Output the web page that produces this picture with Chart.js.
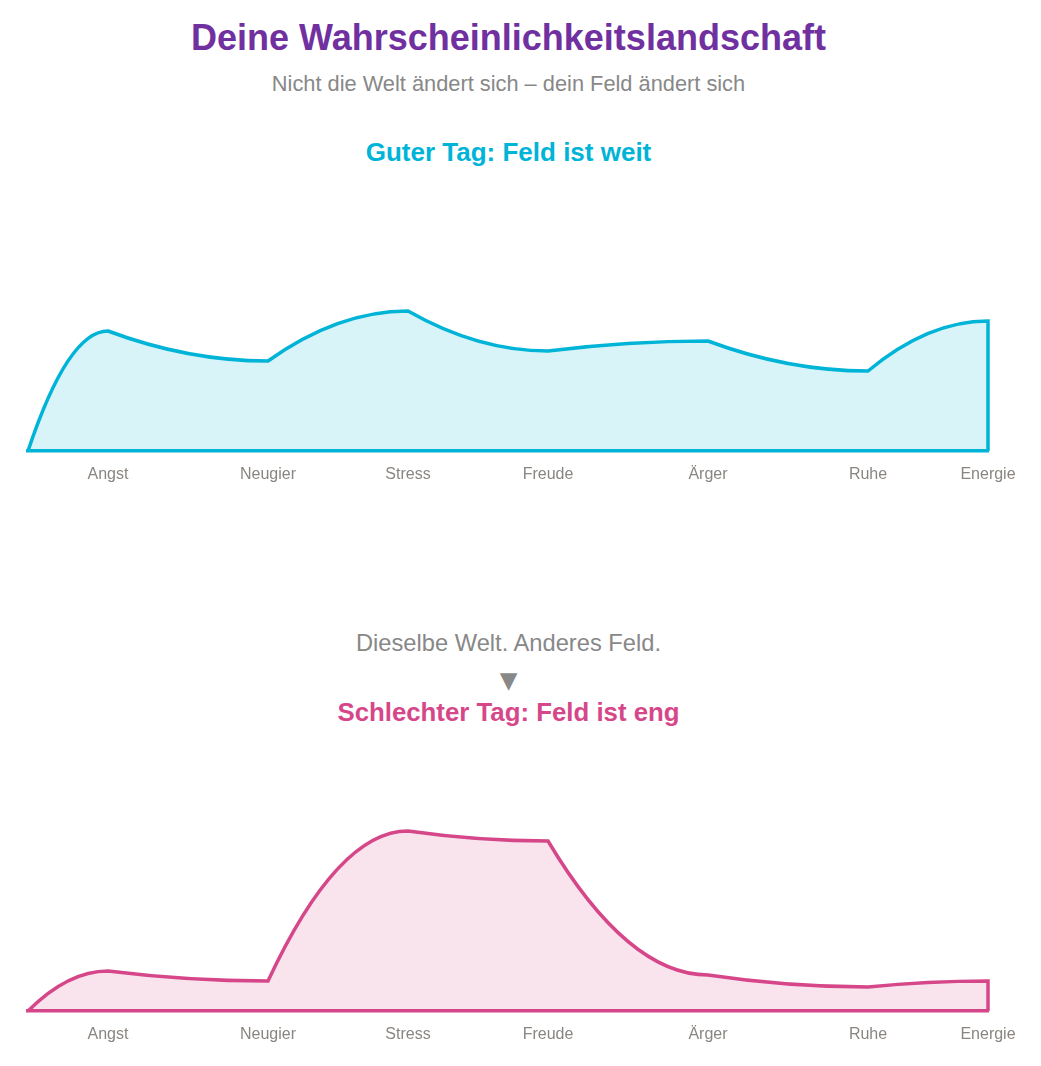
<!DOCTYPE html>
<html lang="de">
<head>
<meta charset="utf-8">
<title>Deine Wahrscheinlichkeitslandschaft</title>
<script src="https://cdn.jsdelivr.net/npm/chart.js@4.4.1/dist/chart.umd.min.js"></script>
<style>
  html, body { margin: 0; padding: 0; background: #ffffff; overflow: hidden; }
  body { width: 1041px; height: 1066px; position: relative; font-family: "Liberation Sans", Arial, sans-serif; }
  .txt { position: absolute; left: 0; width: 1017px; text-align: center; white-space: nowrap; }
  #title { top: 18px; line-height: 40px; font-size: 36px; font-weight: bold; color: #7030a0; }
  #subtitle { top: 68.5px; line-height: 30px; font-size: 21.8px; color: #888888; }
  #goodTitle { top: 136.5px; line-height: 30px; font-size: 26px; font-weight: bold; color: #00b4d8; }
  #between { top: 628px; line-height: 30px; font-size: 23.7px; color: #888888; }
  #arrow { top: 665px; line-height: 30px; font-size: 23px; color: #888888; font-family: "DejaVu Sans", sans-serif; }
  #badTitle { top: 696.7px; line-height: 30px; font-size: 25.8px; font-weight: bold; color: #d6478a; }
  canvas { position: absolute; left: 0; }
  #goodChart { top: 251px; }
  #badChart { top: 811px; }
</style>
</head>
<body>
<div class="txt" id="title">Deine Wahrscheinlichkeitslandschaft</div>
<div class="txt" id="subtitle">Nicht die Welt ändert sich – dein Feld ändert sich</div>
<div class="txt" id="goodTitle">Guter Tag: Feld ist weit</div>
<canvas id="goodChart" width="1041" height="247"></canvas>
<div class="txt" id="between">Dieselbe Welt. Anderes Feld.</div>
<div class="txt" id="arrow">▼</div>
<div class="txt" id="badTitle">Schlechter Tag: Feld ist eng</div>
<canvas id="badChart" width="1041" height="247"></canvas>
<script>
// ---- data ----
const categories = ['Angst', 'Neugier', 'Stress', 'Freude', 'Ärger', 'Ruhe', 'Energie'];
const positions = [80, 240, 380, 520, 680, 840, 960];
const goodDay = [120, 90, 140, 100, 110, 80, 130];
const badDay = [40, 30, 180, 170, 36, 24, 30];
const xMax = 960;
const yMax = 200;

// build landscape outline: start on baseline, through each category, close down to baseline
function landscape(values) {
  const pts = [{ x: 0, y: 0 }];
  positions.forEach((p, i) => pts.push({ x: p, y: values[i] }));
  pts.push({ x: positions[positions.length - 1], y: 0 });
  return pts;
}

// each segment drawn as a quadratic curve (control at mid-x, end height), as cubic for Chart.js
const quadSegments = {
  id: 'quadSegments',
  beforeDatasetsDraw(chart) {
    chart.getSortedVisibleDatasetMetas().forEach(meta => {
      const line = meta.dataset;
      const pts = meta.data;
      if (!line || !pts.length) return;
      line.updateControlPoints(chart.chartArea, 'x');
      for (let i = 1; i < pts.length; i++) {
        const p0 = pts[i - 1], p1 = pts[i];
        const cx = (p0.x + p1.x) / 2, cy = p1.y;
        p0.cp2x = p0.x + 2 / 3 * (cx - p0.x);
        p0.cp2y = p0.y + 2 / 3 * (cy - p0.y);
        p1.cp1x = p1.x + 2 / 3 * (cx - p1.x);
        p1.cp1y = p1.y + 2 / 3 * (cy - p1.y);
      }
      pts[0].cp1x = pts[0].x; pts[0].cp1y = pts[0].y;
      const last = pts[pts.length - 1];
      last.cp2x = last.x; last.cp2y = last.y;
    });
  }
};

function makeChart(id, values, color, fillColor) {
  return new Chart(document.getElementById(id), {
    type: 'line',
    data: {
      datasets: [{
        data: landscape(values),
        borderColor: color,
        backgroundColor: fillColor,
        borderWidth: 3.5,
        borderJoinStyle: 'miter',
        fill: 'origin',
        tension: 0.4,
        pointRadius: 0,
        pointHoverRadius: 0,
        clip: false
      }]
    },
    options: {
      responsive: false,
      animation: false,
      events: [],
      layout: { padding: { left: 28, right: 53, top: 0, bottom: 0 } },
      plugins: { legend: { display: false }, tooltip: { enabled: false } },
      scales: {
        x: {
          type: 'linear',
          min: 0,
          max: xMax,
          grid: { display: false, drawTicks: false },
          border: { display: true, color: color, width: 3.5 },
          afterBuildTicks: (scale) => { scale.ticks = positions.map(v => ({ value: v })); },
          ticks: {
            autoSkip: false,
            maxRotation: 0,
            padding: 15,
            color: '#8a8580',
            font: { family: '"Liberation Sans", Arial, sans-serif', size: 16, lineHeight: '17px' },
            callback: (value, index) => categories[index]
          }
        },
        y: {
          display: false,
          min: 0,
          max: yMax
        }
      }
    },
    plugins: [quadSegments]
  });
}

makeChart('goodChart', goodDay, '#00b4d8', 'rgba(0, 180, 216, 0.15)');
makeChart('badChart', badDay, '#d6478a', 'rgba(214, 71, 138, 0.15)');
</script>
</body>
</html>
